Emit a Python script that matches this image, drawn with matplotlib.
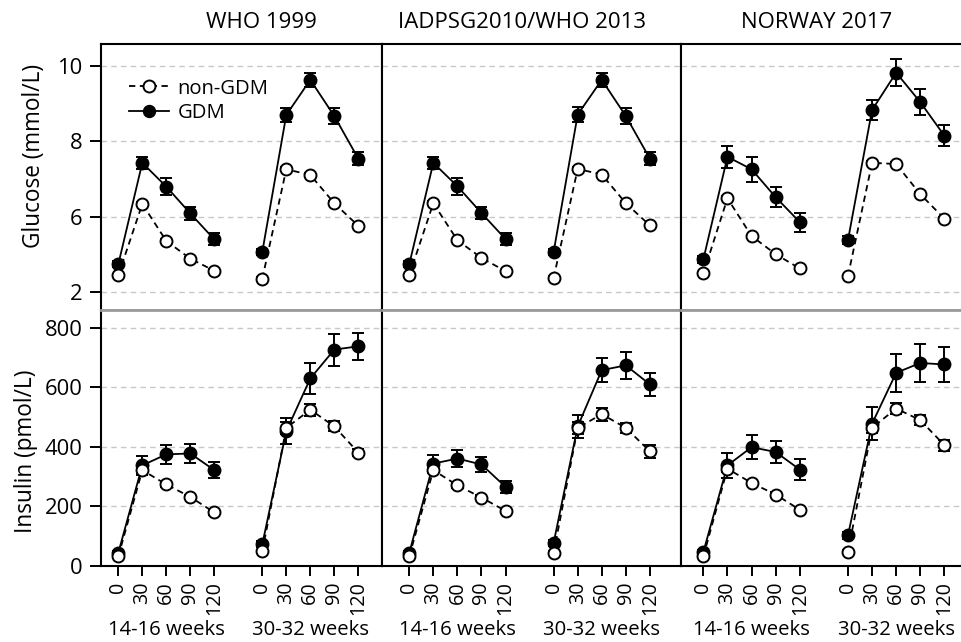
import numpy as np
import matplotlib.pyplot as plt

plt.rcParams['font.family'] = ['Open Sans', 'DejaVu Sans']

columns = ['WHO 1999', 'IADPSG2010/WHO 2013', 'NORWAY 2017']
minutes = ['0', '30', '60', '90', '120']
periods = ['14-16 weeks', '30-32 weeks']

# glucose, mmol/L: 0..120 min at 14-16 weeks, then 0..120 min at 30-32 weeks
glu_non = [
    [4.45, 6.34, 5.36, 4.89, 4.57, 4.36, 7.26, 7.11, 6.36, 5.76],
    [4.45, 6.36, 5.38, 4.91, 4.56, 4.38, 7.27, 7.12, 6.36, 5.77],
    [4.50, 6.49, 5.49, 5.01, 4.63, 4.43, 7.43, 7.40, 6.60, 5.95],
]
glu_non_err = [
    [0.04, 0.05, 0.04, 0.04, 0.04, 0.04, 0.05, 0.05, 0.05, 0.05],
    [0.04, 0.05, 0.04, 0.04, 0.04, 0.04, 0.05, 0.05, 0.05, 0.05],
    [0.04, 0.05, 0.04, 0.04, 0.04, 0.04, 0.05, 0.05, 0.05, 0.05],
]
glu_gdm = [
    [4.74, 7.43, 6.80, 6.09, 5.40, 5.07, 8.70, 9.63, 8.67, 7.54],
    [4.74, 7.43, 6.81, 6.10, 5.41, 5.07, 8.71, 9.63, 8.67, 7.54],
    [4.87, 7.59, 7.26, 6.52, 5.86, 5.38, 8.83, 9.82, 9.04, 8.15],
]
glu_gdm_err = [
    [0.08, 0.16, 0.22, 0.17, 0.16, 0.08, 0.19, 0.19, 0.22, 0.17],
    [0.08, 0.16, 0.22, 0.17, 0.16, 0.08, 0.19, 0.19, 0.22, 0.17],
    [0.10, 0.29, 0.33, 0.26, 0.25, 0.10, 0.27, 0.35, 0.35, 0.28],
]

# insulin, pmol/L
ins_non = [
    [32, 322, 274, 232, 180, 49, 464, 525, 469, 381],
    [32, 322, 271, 230, 185, 44, 464, 510, 464, 385],
    [32, 327, 279, 240, 189, 47, 464, 529, 490, 406],
]
ins_non_err = [
    [5, 10, 8, 8, 7, 6, 20, 20, 17, 12],
    [5, 10, 8, 8, 7, 6, 20, 22, 17, 21],
    [5, 10, 8, 8, 7, 6, 18, 20, 18, 18],
]
ins_gdm = [
    [44, 338, 375, 378, 322, 73, 453, 630, 727, 738],
    [44, 344, 361, 341, 266, 78, 469, 658, 674, 610],
    [47, 338, 399, 383, 324, 103, 478, 649, 682, 677],
]
ins_gdm_err = [
    [8, 33, 32, 31, 27, 10, 43, 53, 54, 46],
    [8, 28, 29, 25, 20, 10, 38, 41, 45, 40],
    [8, 42, 40, 38, 34, 12, 56, 64, 63, 58],
]

glu_ticks = [4, 6, 8, 10]
glu_ticklabels = ['2', '6', '8', '10']
ins_ticks = [0, 200, 400, 600, 800]

xpos = np.array([0, 1, 2, 3, 4, 6, 7, 8, 9, 10])

W, H = 961, 642
fig = plt.figure(figsize=(W / 100, H / 100), dpi=100)

# pixel layout of the panels
col_edges = [(100.7, 382.3), (382.3, 680.7), (680.7, 961.0)]
col_xlim = [(-0.733, 11.0), (-1.12, 11.28), (-0.94, 10.69)]
rows = [(44, 310), (310, 566)]

spine_gray = '#9a9a9a'
dash = (0, (3.5, 2.5))


def add_ax(col, row):
    x0, x1 = col_edges[col]
    y0, y1 = rows[row]
    return fig.add_axes([x0 / W, 1 - y1 / H, (x1 - x0) / W, (y1 - y0) / H])


def draw_series(ax, y, err, filled):
    y = np.array(y)
    err = np.array(err)
    for sl in (slice(0, 5), slice(5, 10)):
        ax.errorbar(xpos[sl], y[sl], yerr=err[sl],
                    color='black', linestyle='-' if filled else dash,
                    linewidth=1.3, marker='o', markersize=8.6,
                    markerfacecolor='black' if filled else 'white',
                    markeredgecolor='black', markeredgewidth=1.4,
                    elinewidth=1.4, capsize=4.6, capthick=1.4,
                    zorder=4 if filled else 5)


for c in range(3):
    for r in range(2):
        ax = add_ax(c, r)
        if r == 0:
            draw_series(ax, glu_gdm[c], glu_gdm_err[c], True)
            draw_series(ax, glu_non[c], glu_non_err[c], False)
            ax.set_ylim(3.53, 10.58)
            ax.set_yticks(glu_ticks)
            ax.set_yticklabels(glu_ticklabels)
            ax.spines['bottom'].set_color(spine_gray)
            ax.spines['bottom'].set_linewidth(2)
            ax.set_xticks([])
        else:
            draw_series(ax, ins_gdm[c], ins_gdm_err[c], True)
            draw_series(ax, ins_non[c], ins_non_err[c], False)
            ax.set_ylim(0, 860)
            ax.set_yticks(ins_ticks)
            ax.spines['top'].set_color(spine_gray)
            ax.spines['top'].set_linewidth(2)
            ax.set_xticks(xpos)
            ax.set_xticklabels(minutes * 2, rotation=90, va='top', ha='center')
            ax.tick_params(axis='x', length=7, width=1.4, pad=4, labelsize=14.2)
            for i, p in enumerate(periods):
                ax.annotate(p, xy=(2 + 6 * i, 0), xycoords=('data', 'axes fraction'),
                            xytext=(0, -50), textcoords='offset points',
                            ha='center', va='baseline', fontsize=14.6)
        ax.set_xlim(*col_xlim[c])
        for s in ['left', 'right']:
            ax.spines[s].set_linewidth(1.5)
        ax.spines['top' if r == 0 else 'bottom'].set_linewidth(1.5)
        if c == 2:
            ax.spines['right'].set_visible(False)
        ax.grid(axis='y', color='#c8c8c8', linestyle=(0, (4, 3)), linewidth=1.0)
        ax.set_axisbelow(True)
        if c == 0:
            ax.tick_params(axis='y', length=8, width=1.4, pad=5, labelsize=15.8)
        else:
            ax.tick_params(axis='y', left=False, labelleft=False)
        if c == 0 and r == 0:
            ax.plot([], [], color='black', linestyle=dash, linewidth=1.3,
                    marker='o', markersize=8.6, markerfacecolor='white',
                    markeredgecolor='black', markeredgewidth=1.4, label='non-GDM')
            ax.plot([], [], color='black', linestyle='-', linewidth=1.3,
                    marker='o', markersize=8.6, markerfacecolor='black',
                    markeredgecolor='black', label='GDM')
            ax.legend(loc='upper left', bbox_to_anchor=(0.1, 0.87), frameon=False,
                      fontsize=14.6, handlelength=2.0, handletextpad=0.4,
                      labelspacing=0.2, borderpad=0, borderaxespad=0)

title_x = [261, 522, 817]
for t, x in zip(columns, title_x):
    fig.text(x / W, 1 - 23 / H, t, ha='center', va='center', fontsize=16)

fig.text(34 / W, 1 - 156 / H, 'Glucose (mmol/L)', rotation=90,
         ha='center', va='center', fontsize=16.3)
fig.text(26 / W, 1 - 451 / H, 'Insulin (pmol/L)', rotation=90,
         ha='center', va='center', fontsize=16.3)

fig.savefig('out.png', dpi=100)
